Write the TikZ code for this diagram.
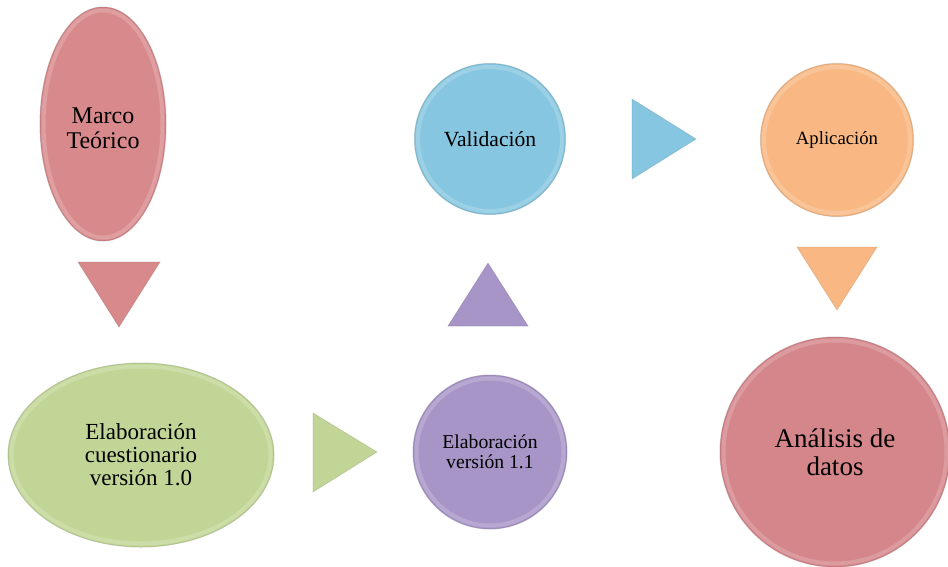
\documentclass[tikz,border=0pt]{standalone}
\usepackage{fontspec}
\setmainfont{Liberation Serif}
\usetikzlibrary{shapes.geometric}

\definecolor{rosa}{HTML}{D8898B}
\definecolor{verde}{HTML}{C1D696}
\definecolor{lila}{HTML}{A895C7}
\definecolor{celeste}{HTML}{86C6E0}
\definecolor{naranja}{HTML}{F9B883}
\definecolor{rojo}{HTML}{D5868A}

\begin{document}
\begin{tikzpicture}[x=1pt, y=-1pt,
  bubble/.style={fill=#1, draw=#1!70!black, draw opacity=0.4, line width=1pt,
    inner sep=0pt, align=center, text=black},
  rim/.style={draw=white, draw opacity=0.18, line width=4pt, inner sep=0pt},
  arrowtri/.style={fill=#1, draw=#1!75!black, draw opacity=0.35, line width=0.8pt, line join=miter},
]
\useasboundingbox (0,0) rectangle (948,566);
\begin{scope}
\clip (0,0) rectangle (948,566);

% process steps
\node[bubble=rosa, ellipse, minimum width=126pt, minimum height=234pt,
      font=\fontsize{24}{25}\selectfont] (marco) at (103,124) {\rule{0pt}{25pt}Marco\\Teórico};
\node[bubble=verde, ellipse, minimum width=266pt, minimum height=184pt,
      font=\fontsize{23}{23}\selectfont] (cuest) at (141,455) {Elaboración\\cuestionario\\versión 1.0};
\node[bubble=lila, circle, minimum size=154pt,
      font=\fontsize{19.7}{20}\selectfont] (v11) at (490,452) {Elaboración\\versión 1.1};
\node[bubble=celeste, circle, minimum size=151pt,
      font=\fontsize{21.6}{22}\selectfont] (valid) at (490,139) {Validación};
\node[bubble=naranja, circle, minimum size=153pt,
      font=\fontsize{18.7}{19}\selectfont] (aplic) at (837,140) {Aplicación};
\node[bubble=rojo, circle, minimum size=230pt,
      font=\fontsize{27}{28}\selectfont] (anal) at (835,452) {Análisis de\\datos};

% light bevel just inside each step outline
\node[rim, ellipse, minimum width=119pt, minimum height=227pt] (marcorim) at (marco) {};
\node[rim, ellipse, minimum width=259pt, minimum height=177pt] (cuestrim) at (cuest) {};
\node[rim, circle, minimum size=147pt] (v11rim) at (v11) {};
\node[rim, circle, minimum size=144pt] (validrim) at (valid) {};
\node[rim, circle, minimum size=146pt] (aplicrim) at (aplic) {};
\node[rim, circle, minimum size=223pt] (analrim) at (anal) {};

% flow markers between the steps
\coordinate (a1) at (119,295);
\coordinate (a2) at (345,452);
\coordinate (a3) at (488,295);
\coordinate (a4) at (664,139);
\coordinate (a5) at (837,279);

\fill[arrowtri=rosa]    (a1) ++(-41,-33) -- ++(82,0) -- ++(-41,65) -- cycle;
\fill[arrowtri=verde]   (a2) ++(-32,-39) -- ++(64,39) -- ++(-64,40) -- cycle;
\fill[arrowtri=lila]    (a3) ++(0,-32) -- ++(40,63) -- ++(-80,0) -- cycle;
\fill[arrowtri=celeste] (a4) ++(-32,-40) -- ++(64,40) -- ++(-64,40) -- cycle;
\fill[arrowtri=naranja] (a5) ++(-40,-32) -- ++(80,0) -- ++(-40,63) -- cycle;
\end{scope}
\end{tikzpicture}
\end{document}
